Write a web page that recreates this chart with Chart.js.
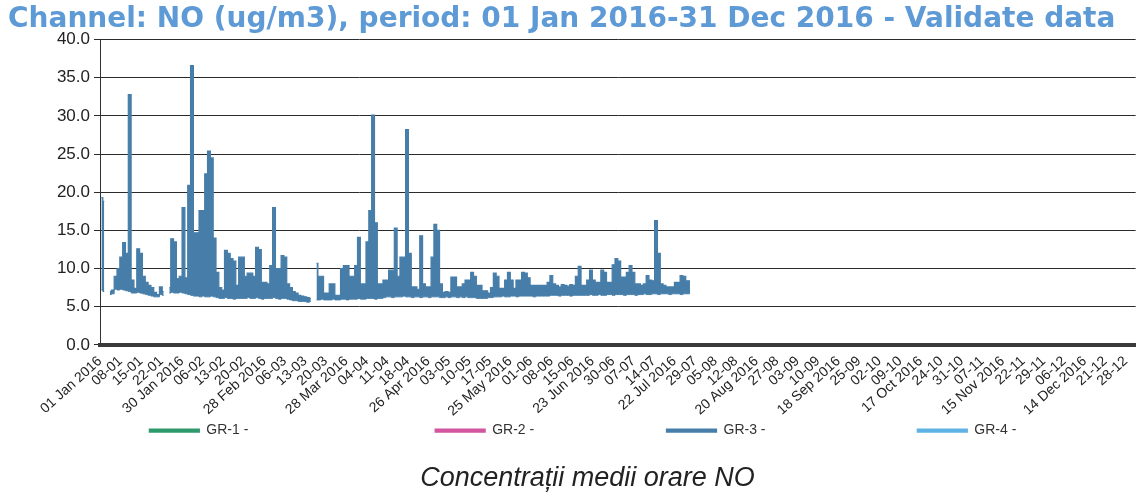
<!DOCTYPE html>
<html>
<head>
<meta charset="utf-8">
<script src="https://cdn.jsdelivr.net/npm/chart.js@4.4.1/dist/chart.umd.min.js"></script>
<style>
	html, body { margin: 0; padding: 0; background: #fff; }
	#wrap { width: 1137px; height: 493px; }
</style>
</head>
<body>
<div id="wrap"><canvas id="no_chart"></canvas></div>
<script>
// values: daily max and daily min of GR-3 (days counted from 01 Jan 2016)
const dailyMax = [
	19.3, 18.8, null, 7.0, 7.2, 9.0, 10.0, 11.5, 13.4, 12.0,
	32.8, 8.5, 7.4, 12.6, 12.0, 9.0, 8.2, 7.8, 7.5, 6.9,
	6.6, 7.6, 7.0, null, 7.5, 13.9, 13.5, 8.7, 9.0, 18.0,
	8.8, 20.9, 36.6, 14.7, 14.7, 17.6, 17.6, 22.4, 25.4, 24.5,
	14.0, 9.5, 7.5, 7.2, 12.4, 12.0, 11.3, 11.0, 7.8, 11.5,
	11.5, 9.0, 9.4, 9.4, 9.0, 12.8, 12.5, 8.2, 8.2, 8.0,
	10.4, 18.0, 10.0, 10.0, 11.7, 11.5, 8.0, 7.5, 7.0, 6.8,
	6.5, 6.4, 6.3, 6.2, 6.1, null, 10.7, 9.0, 9.0, 6.8,
	6.8, 8.0, 8.0, 6.5, 6.5, 10.0, 10.4, 10.4, 9.0, 9.0,
	10.4, 14.1, 8.0, 8.0, 13.5, 17.6, 30.1, 16.0, 8.0, 8.0,
	8.5, 8.5, 9.8, 9.8, 15.3, 9.0, 11.5, 11.5, 28.2, 12.0,
	7.6, 7.6, 7.3, 14.3, 8.0, 7.6, 7.6, 11.5, 15.8, 15.0,
	8.0, 6.9, 7.0, 6.9, 8.9, 8.9, 7.6, 7.6, 8.0, 8.5,
	8.5, 9.5, 9.0, 7.8, 7.8, 7.1, 7.1, 6.8, 7.5, 9.4,
	9.0, 7.4, 7.4, 8.5, 9.5, 8.5, 7.4, 8.5, 8.5, 9.5,
	9.4, 8.8, 7.8, 7.8, 7.8, 7.8, 7.8, 7.8, 8.2, 9.1,
	8.0, 7.8, 7.6, 7.9, 7.8, 7.7, 7.9, 7.8, 9.0, 10.3,
	7.8, 7.8, 8.5, 9.8, 8.5, 8.2, 8.2, 9.8, 9.5, 8.2,
	8.2, 10.5, 11.3, 11.0, 8.9, 8.9, 9.5, 10.4, 9.5, 8.0,
	8.0, 7.8, 8.0, 9.1, 8.5, 8.4, 16.3, 12.0, 8.0, 7.8,
	7.6, 7.6, 7.6, 8.2, 8.2, 9.1, 9.0, 8.4, 8.4
];
const dailyMin = [
	7.2, 7.0, null, 6.6, 6.7, 7.3, 7.2, 7.3, 7.2, 7.1,
	7.0, 6.8, 6.8, 6.9, 6.8, 6.7, 6.6, 6.5, 6.4, 6.3,
	6.3, 6.6, 6.5, null, 6.8, 6.9, 6.8, 6.8, 6.9, 6.8,
	6.7, 6.6, 6.5, 6.4, 6.4, 6.3, 6.4, 6.3, 6.3, 6.4,
	6.3, 6.2, 6.1, 6.1, 6.2, 6.1, 6.1, 6.0, 6.1, 6.1,
	6.1, 6.1, 6.2, 6.1, 6.1, 6.2, 6.1, 6.0, 6.1, 6.1,
	6.1, 6.2, 6.1, 6.0, 6.1, 6.1, 6.0, 5.9, 5.8, 5.8,
	5.7, 5.7, 5.7, 5.6, 5.7, null, 5.9, 5.9, 6.0, 5.9,
	5.9, 5.9, 6.0, 5.9, 5.9, 6.0, 6.0, 5.9, 6.0, 6.0,
	6.0, 6.1, 6.0, 6.0, 6.1, 6.1, 6.1, 6.0, 6.1, 6.1,
	6.2, 6.3, 6.3, 6.2, 6.3, 6.3, 6.3, 6.4, 6.3, 6.3,
	6.2, 6.3, 6.3, 6.2, 6.3, 6.3, 6.2, 6.3, 6.3, 6.3,
	6.2, 6.2, 6.3, 6.2, 6.3, 6.3, 6.2, 6.3, 6.2, 6.3,
	6.2, 6.2, 6.2, 6.1, 6.1, 6.1, 6.1, 6.2, 6.2, 6.3,
	6.3, 6.3, 6.4, 6.3, 6.3, 6.4, 6.4, 6.3, 6.4, 6.4,
	6.4, 6.4, 6.4, 6.3, 6.4, 6.4, 6.4, 6.4, 6.4, 6.5,
	6.5, 6.5, 6.4, 6.5, 6.5, 6.5, 6.4, 6.5, 6.5, 6.5,
	6.5, 6.5, 6.5, 6.6, 6.5, 6.5, 6.6, 6.5, 6.5, 6.6,
	6.6, 6.5, 6.6, 6.6, 6.6, 6.5, 6.6, 6.6, 6.6, 6.5,
	6.6, 6.6, 6.7, 6.6, 6.6, 6.7, 6.7, 6.6, 6.7, 6.7,
	6.7, 6.6, 6.7, 6.7, 6.7, 6.6, 6.7, 6.7, 6.7
];

const seriesNames = ["GR-1 -", "GR-2 -", "GR-3 -", "GR-4 -"];
const seriesColors = ["#2f9a6c", "#d2569f", "#477ea9", "#5fb3e4"];

const yTicks = [0, 5, 10, 15, 20, 25, 30, 35, 40];
const tickDays = [0, 29, 58, 87, 116, 145, 174, 203, 232, 261, 290, 319, 348];
const tickLabels = [
	"01 Jan 2016", "30 Jan 2016", "28 Feb 2016", "28 Mar 2016", "26 Apr 2016",
	"25 May 2016", "23 Jun 2016", "22 Jul 2016", "20 Aug 2016", "18 Sep 2016",
	"17 Oct 2016", "15 Nov 2016", "14 Dec 2016"
];
// the crowded little labels squeezed between the big ones
const minorDays = [];
tickDays.forEach((d) => {
	[7.25, 14.5, 21.75].forEach((o) => {
		if (d + o <= 365) minorDays.push(d + o);
	});
});
const minorLabels = minorDays.map((d) => {
	const dt = new Date(2016, 0, 1 + Math.floor(d));
	return String(dt.getDate()).padStart(2, "0") + "-" + String(dt.getMonth() + 1).padStart(2, "0");
});

const maxPoints = dailyMax.map((v, d) => ({ x: d + 0.5, y: v }));
const minPoints = dailyMin.map((v, d) => ({ x: d + 0.5, y: v }));

// spaces only stretch the legend items apart like in the scan
const legendPad = [47, 33, 38, 18];

const datasets = seriesNames.map((name, i) => ({
	label: name + " ".repeat(legendPad[i]),
	data: i === 2 ? maxPoints : [],
	borderColor: seriesColors[i],
	backgroundColor: seriesColors[i],
	borderWidth: 1.2,
	pointRadius: 0,
	stepped: "middle",
	spanGaps: false,
	fill: i === 2 ? 4 : false,
}));
datasets.push({
	label: "",
	data: minPoints,
	borderColor: seriesColors[2],
	backgroundColor: seriesColors[2],
	borderWidth: 1,
	pointRadius: 0,
	stepped: "middle",
	spanGaps: false,
	fill: false,
});

const ctx = document.getElementById("no_chart").getContext("2d");
const noChart = new Chart(ctx, {
	type: "line",
	data: { datasets: datasets },
	options: {
		responsive: true,
		maintainAspectRatio: false,
		animation: false,
		layout: {
			padding: { left: 8, right: 0, top: 0, bottom: -2 },
		},
		scales: {
			x: {
				type: "linear",
				min: 0,
				max: 366,
				afterBuildTicks: (scale) => {
					const all = tickDays.map((v) => ({ value: v })).concat(minorDays.map((v) => ({ value: v })));
					scale.ticks = all.sort((a, b) => a.value - b.value);
				},
				ticks: {
					autoSkip: false,
					minRotation: 42,
					maxRotation: 42,
					padding: 0,
					color: "#222",
					font: { family: "'Liberation Sans', Arial", size: 14 },
					callback: (v) => {
						const i = tickDays.indexOf(v);
						if (i >= 0) return tickLabels[i];
						const j = minorDays.indexOf(v);
						return j >= 0 ? minorLabels[j] : "";
					},
				},
				grid: { display: false },
				border: { color: "#3a3a3a", width: 4 },
			},
			y: {
				min: 0,
				max: 40,
				afterBuildTicks: (scale) => {
					scale.ticks = yTicks.map((v) => ({ value: v }));
				},
				afterFit: (scale) => {
					scale.width = 92;
				},
				ticks: {
					color: "#222",
					padding: 4,
					font: { family: "'Liberation Sans', Arial", size: 17 },
					callback: (v) => v.toFixed(1),
				},
				grid: { color: "#2b2b2b", lineWidth: 1, tickLength: 6 },
				border: { color: "#333", width: 1 },
			},
		},
		plugins: {
			title: {
				display: true,
				align: "start",
				text: "Channel: NO (ug/m3), period: 01 Jan 2016-31 Dec 2016 - Validate data",
				color: "#5d9ad6",
				font: { family: "'DejaVu Sans', Verdana", size: 28, weight: "bold" },
				padding: { top: 3, bottom: 3 },
			},
			subtitle: {
				display: true,
				position: "bottom",
				// leading spaces nudge the caption right, as in the scan
				text: "    Concentrații medii orare NO",
				color: "#222",
				font: { family: "'Liberation Sans', Arial", size: 27, style: "italic", weight: "normal" },
				padding: { top: 15, bottom: 0 },
			},
			legend: {
				position: "bottom",
				fullSize: false,
				labels: {
					boxWidth: 50,
					boxHeight: 3,
					padding: 4,
					color: "#333",
					font: { family: "'Liberation Sans', Arial", size: 14 },
					filter: (item) => item.text !== "",
				},
			},
			tooltip: { enabled: false },
		},
	},
});
</script>
</body>
</html>
